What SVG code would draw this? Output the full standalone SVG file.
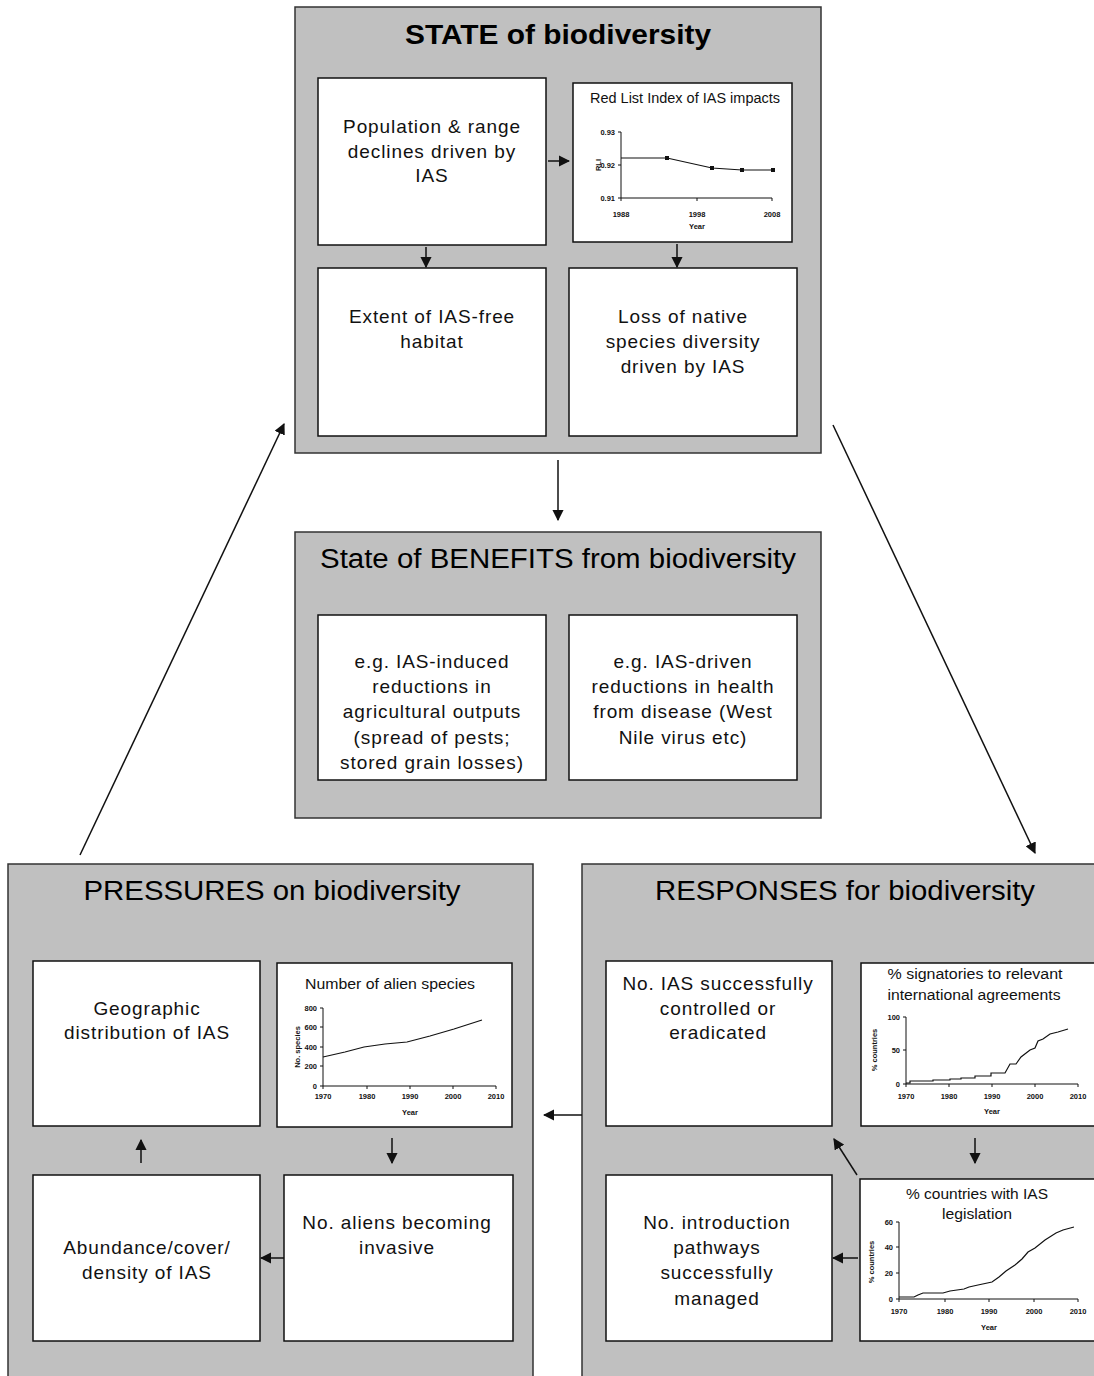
<svg xmlns="http://www.w3.org/2000/svg" width="1094" height="1376" viewBox="0 0 1094 1376">
<defs>
<style>
.panel{fill:#c0c0c0;stroke:#333;stroke-width:1.5}
.box{fill:#fff;stroke:#111;stroke-width:1.5}
.t{font-family:"Liberation Sans",Arial,sans-serif;font-size:19px;letter-spacing:0.9px;fill:#111;text-anchor:middle}
.title{font-family:"Liberation Sans",Arial,sans-serif;font-size:27px;fill:#000;text-anchor:middle}
.ct{font-family:"Liberation Sans",Arial,sans-serif;font-size:14px;fill:#111;text-anchor:middle}
.ax{font-family:"Liberation Sans",Arial,sans-serif;font-size:7.5px;font-weight:bold;fill:#111}
.conn{stroke:#111;stroke-width:1.5;fill:none}
.axis{stroke:#111;stroke-width:1;fill:none}
.data{stroke:#111;stroke-width:1.2;fill:none}
</style>
<marker id="ah" viewBox="0 0 10 10" refX="9" refY="5" markerWidth="7.5" markerHeight="7.5" markerUnits="strokeWidth" orient="auto">
<path d="M0,0 L10,5 L0,10 z" fill="#111"/>
</marker>
</defs>

<g id="state">
<rect class="panel" x="295" y="7" width="526" height="446"/>
<text class="title" x="558" y="44" font-weight="bold" textLength="306" lengthAdjust="spacingAndGlyphs">STATE of biodiversity</text>
</g>
<g id="pop-decline">
<rect class="box" x="318" y="78" width="228" height="167"/>
<text class="t" x="432" y="133">Population &amp; range</text>
<text class="t" x="432" y="158">declines driven by</text>
<text class="t" x="432" y="182">IAS</text>
</g>
<g id="rli-chart">
<rect class="box" x="573" y="83" width="219" height="159"/>
<text class="ct" x="685" y="103" textLength="190" lengthAdjust="spacingAndGlyphs">Red List Index of IAS impacts</text>
<path class="axis" d="M621,132 V198 H772 M618,132 H621 M618,165 H621 M618,198 H621 M697,198 V201 M772,198 V201 M621,198 V201"/>
<text class="ax" x="615" y="134.5" text-anchor="end">0.93</text>
<text class="ax" x="615" y="167.5" text-anchor="end">0.92</text>
<text class="ax" x="615" y="200.5" text-anchor="end">0.91</text>
<text class="ax" x="621" y="217" text-anchor="middle">1988</text>
<text class="ax" x="697" y="217" text-anchor="middle">1998</text>
<text class="ax" x="772" y="217" text-anchor="middle">2008</text>
<text class="ax" x="697" y="229" text-anchor="middle">Year</text>
<text class="ax" transform="translate(601,165) rotate(-90)" text-anchor="middle">RLI</text>
<polyline class="data" points="621,158 667,158 712,168 742,170 773,170"/>
<g fill="#111"><rect x="665" y="156" width="4" height="4"/><rect x="710" y="166" width="4" height="4"/><rect x="740" y="168" width="4" height="4"/><rect x="771" y="168" width="4" height="4"/></g>
</g>
<g id="ias-free">
<rect class="box" x="318" y="268" width="228" height="168"/>
<text class="t" x="432" y="323">Extent of IAS-free</text>
<text class="t" x="432" y="348">habitat</text>
</g>
<g id="native-loss">
<rect class="box" x="569" y="268" width="228" height="168"/>
<text class="t" x="683" y="323">Loss of native</text>
<text class="t" x="683" y="348">species diversity</text>
<text class="t" x="683" y="373">driven by IAS</text>
</g>

<g id="benefits">
<rect class="panel" x="295" y="532" width="526" height="286"/>
<text class="title" x="558" y="568" textLength="476" lengthAdjust="spacingAndGlyphs">State of BENEFITS from biodiversity</text>
</g>
<g id="agri">
<rect class="box" x="318" y="615" width="228" height="165"/>
<text class="t" x="432" y="668">e.g. IAS-induced</text>
<text class="t" x="432" y="693">reductions in</text>
<text class="t" x="432" y="718">agricultural outputs</text>
<text class="t" x="432" y="744">(spread of pests;</text>
<text class="t" x="432" y="769">stored grain losses)</text>
</g>
<g id="health">
<rect class="box" x="569" y="615" width="228" height="165"/>
<text class="t" x="683" y="668">e.g. IAS-driven</text>
<text class="t" x="683" y="693">reductions in health</text>
<text class="t" x="683" y="718">from disease (West</text>
<text class="t" x="683" y="744">Nile virus etc)</text>
</g>

<g id="pressures">
<rect class="panel" x="8" y="864" width="525" height="530"/>
<text class="title" x="272" y="900" textLength="377" lengthAdjust="spacingAndGlyphs">PRESSURES on biodiversity</text>
</g>
<g id="geo">
<rect class="box" x="33" y="961" width="227" height="165"/>
<text class="t" x="147" y="1015">Geographic</text>
<text class="t" x="147" y="1039">distribution of IAS</text>
</g>
<g id="alien-chart">
<rect class="box" x="277" y="963" width="235" height="164"/>
<text class="ct" x="390" y="989" textLength="170" lengthAdjust="spacingAndGlyphs">Number of alien species</text>
<path class="axis" d="M323,1008 V1086 H496 M320,1008 H323 M320,1027 H323 M320,1047 H323 M320,1066 H323 M320,1086 H323 M323,1086 V1089 M367,1086 V1089 M410,1086 V1089 M453,1086 V1089 M496,1086 V1089"/>
<text class="ax" x="317" y="1010.5" text-anchor="end">800</text>
<text class="ax" x="317" y="1029.5" text-anchor="end">600</text>
<text class="ax" x="317" y="1049.5" text-anchor="end">400</text>
<text class="ax" x="317" y="1068.5" text-anchor="end">200</text>
<text class="ax" x="317" y="1088.5" text-anchor="end">0</text>
<text class="ax" x="323" y="1099" text-anchor="middle">1970</text>
<text class="ax" x="367" y="1099" text-anchor="middle">1980</text>
<text class="ax" x="410" y="1099" text-anchor="middle">1990</text>
<text class="ax" x="453" y="1099" text-anchor="middle">2000</text>
<text class="ax" x="496" y="1099" text-anchor="middle">2010</text>
<text class="ax" x="410" y="1115" text-anchor="middle">Year</text>
<text class="ax" transform="translate(300,1047) rotate(-90)" text-anchor="middle">No. species</text>
<polyline class="data" points="323,1057 345,1052 364,1047 385,1044 407,1042 430,1036 454,1029 482,1020"/>
</g>
<g id="abundance">
<rect class="box" x="33" y="1175" width="227" height="166"/>
<text class="t" x="147" y="1254">Abundance/cover/</text>
<text class="t" x="147" y="1279">density of IAS</text>
</g>
<g id="becoming-invasive">
<rect class="box" x="284" y="1175" width="229" height="166"/>
<text class="t" x="397" y="1229">No. aliens becoming</text>
<text class="t" x="397" y="1254">invasive</text>
</g>

<g id="responses">
<rect class="panel" x="582" y="864" width="530" height="530"/>
<text class="title" x="845" y="900" textLength="380" lengthAdjust="spacingAndGlyphs">RESPONSES for biodiversity</text>
</g>
<g id="controlled">
<rect class="box" x="606" y="961" width="226" height="165"/>
<text class="t" x="718" y="990">No. IAS successfully</text>
<text class="t" x="718" y="1015">controlled or</text>
<text class="t" x="718" y="1039">eradicated</text>
</g>
<g id="signatories-chart">
<rect class="box" x="861" y="963" width="250" height="163"/>
<text class="ct" x="975" y="979" textLength="175" lengthAdjust="spacingAndGlyphs">% signatories to relevant</text>
<text class="ct" x="974" y="1000" textLength="173" lengthAdjust="spacingAndGlyphs">international agreements</text>
<path class="axis" d="M906,1017 V1084 H1078 M903,1017 H906 M903,1050 H906 M903,1084 H906 M906,1084 V1087 M949,1084 V1087 M992,1084 V1087 M1035,1084 V1087 M1078,1084 V1087"/>
<text class="ax" x="900" y="1019.5" text-anchor="end">100</text>
<text class="ax" x="900" y="1052.5" text-anchor="end">50</text>
<text class="ax" x="900" y="1086.5" text-anchor="end">0</text>
<text class="ax" x="906" y="1099" text-anchor="middle">1970</text>
<text class="ax" x="949" y="1099" text-anchor="middle">1980</text>
<text class="ax" x="992" y="1099" text-anchor="middle">1990</text>
<text class="ax" x="1035" y="1099" text-anchor="middle">2000</text>
<text class="ax" x="1078" y="1099" text-anchor="middle">2010</text>
<text class="ax" x="992" y="1114" text-anchor="middle">Year</text>
<text class="ax" transform="translate(877,1050) rotate(-90)" text-anchor="middle">% countries</text>
<polyline class="data" points="906,1083 910,1083 910,1081 933,1081 933,1080 950,1080 950,1079 961,1079 961,1078 975,1078 975,1076 991,1076 991,1073 1005,1073 1010,1064 1016,1064 1021,1057 1030,1050 1035,1048 1038,1041 1043,1039 1050,1034 1058,1032 1068,1029"/>
</g>
<g id="pathways">
<rect class="box" x="606" y="1175" width="226" height="166"/>
<text class="t" x="717" y="1229">No. introduction</text>
<text class="t" x="717" y="1254">pathways</text>
<text class="t" x="717" y="1279">successfully</text>
<text class="t" x="717" y="1305">managed</text>
</g>
<g id="legislation-chart">
<rect class="box" x="860" y="1179" width="250" height="162"/>
<text class="ct" x="977" y="1199" textLength="142" lengthAdjust="spacingAndGlyphs">% countries with IAS</text>
<text class="ct" x="977" y="1219" textLength="70" lengthAdjust="spacingAndGlyphs">legislation</text>
<path class="axis" d="M899,1222 V1299 H1078 M896,1222 H899 M896,1247 H899 M896,1273 H899 M896,1299 H899 M899,1299 V1302 M945,1299 V1302 M989,1299 V1302 M1034,1299 V1302 M1078,1299 V1302"/>
<text class="ax" x="893" y="1224.5" text-anchor="end">60</text>
<text class="ax" x="893" y="1249.5" text-anchor="end">40</text>
<text class="ax" x="893" y="1275.5" text-anchor="end">20</text>
<text class="ax" x="893" y="1301.5" text-anchor="end">0</text>
<text class="ax" x="899" y="1314" text-anchor="middle">1970</text>
<text class="ax" x="945" y="1314" text-anchor="middle">1980</text>
<text class="ax" x="989" y="1314" text-anchor="middle">1990</text>
<text class="ax" x="1034" y="1314" text-anchor="middle">2000</text>
<text class="ax" x="1078" y="1314" text-anchor="middle">2010</text>
<text class="ax" x="989" y="1330" text-anchor="middle">Year</text>
<text class="ax" transform="translate(874,1262) rotate(-90)" text-anchor="middle">% countries</text>
<polyline class="data" points="899,1297 914,1297 918,1295 923,1293 943,1293 950,1291 964,1289 969,1287 978,1285 992,1282 999,1277 1006,1271 1015,1265 1022,1259 1028,1252 1035,1248 1045,1240 1056,1233 1063,1230 1074,1227"/>
</g>

<g id="connectors">
<line class="conn" x1="548" y1="161" x2="569" y2="161" marker-end="url(#ah)"/>
<line class="conn" x1="426" y1="247" x2="426" y2="267" marker-end="url(#ah)"/>
<line class="conn" x1="677" y1="244" x2="677" y2="267" marker-end="url(#ah)"/>
<line class="conn" x1="558" y1="460" x2="558" y2="520" marker-end="url(#ah)"/>
<line class="conn" x1="80" y1="855" x2="284" y2="424" marker-end="url(#ah)"/>
<line class="conn" x1="833" y1="425" x2="1035" y2="853" marker-end="url(#ah)"/>
<line class="conn" x1="582" y1="1115" x2="544" y2="1115" marker-end="url(#ah)"/>
<line class="conn" x1="392" y1="1138" x2="392" y2="1163" marker-end="url(#ah)"/>
<line class="conn" x1="141" y1="1163" x2="141" y2="1140" marker-end="url(#ah)"/>
<line class="conn" x1="284" y1="1258" x2="261" y2="1258" marker-end="url(#ah)"/>
<line class="conn" x1="975" y1="1138" x2="975" y2="1163" marker-end="url(#ah)"/>
<line class="conn" x1="857" y1="1175" x2="834" y2="1139" marker-end="url(#ah)"/>
<line class="conn" x1="858" y1="1258" x2="833" y2="1258" marker-end="url(#ah)"/>
</g>
</svg>
